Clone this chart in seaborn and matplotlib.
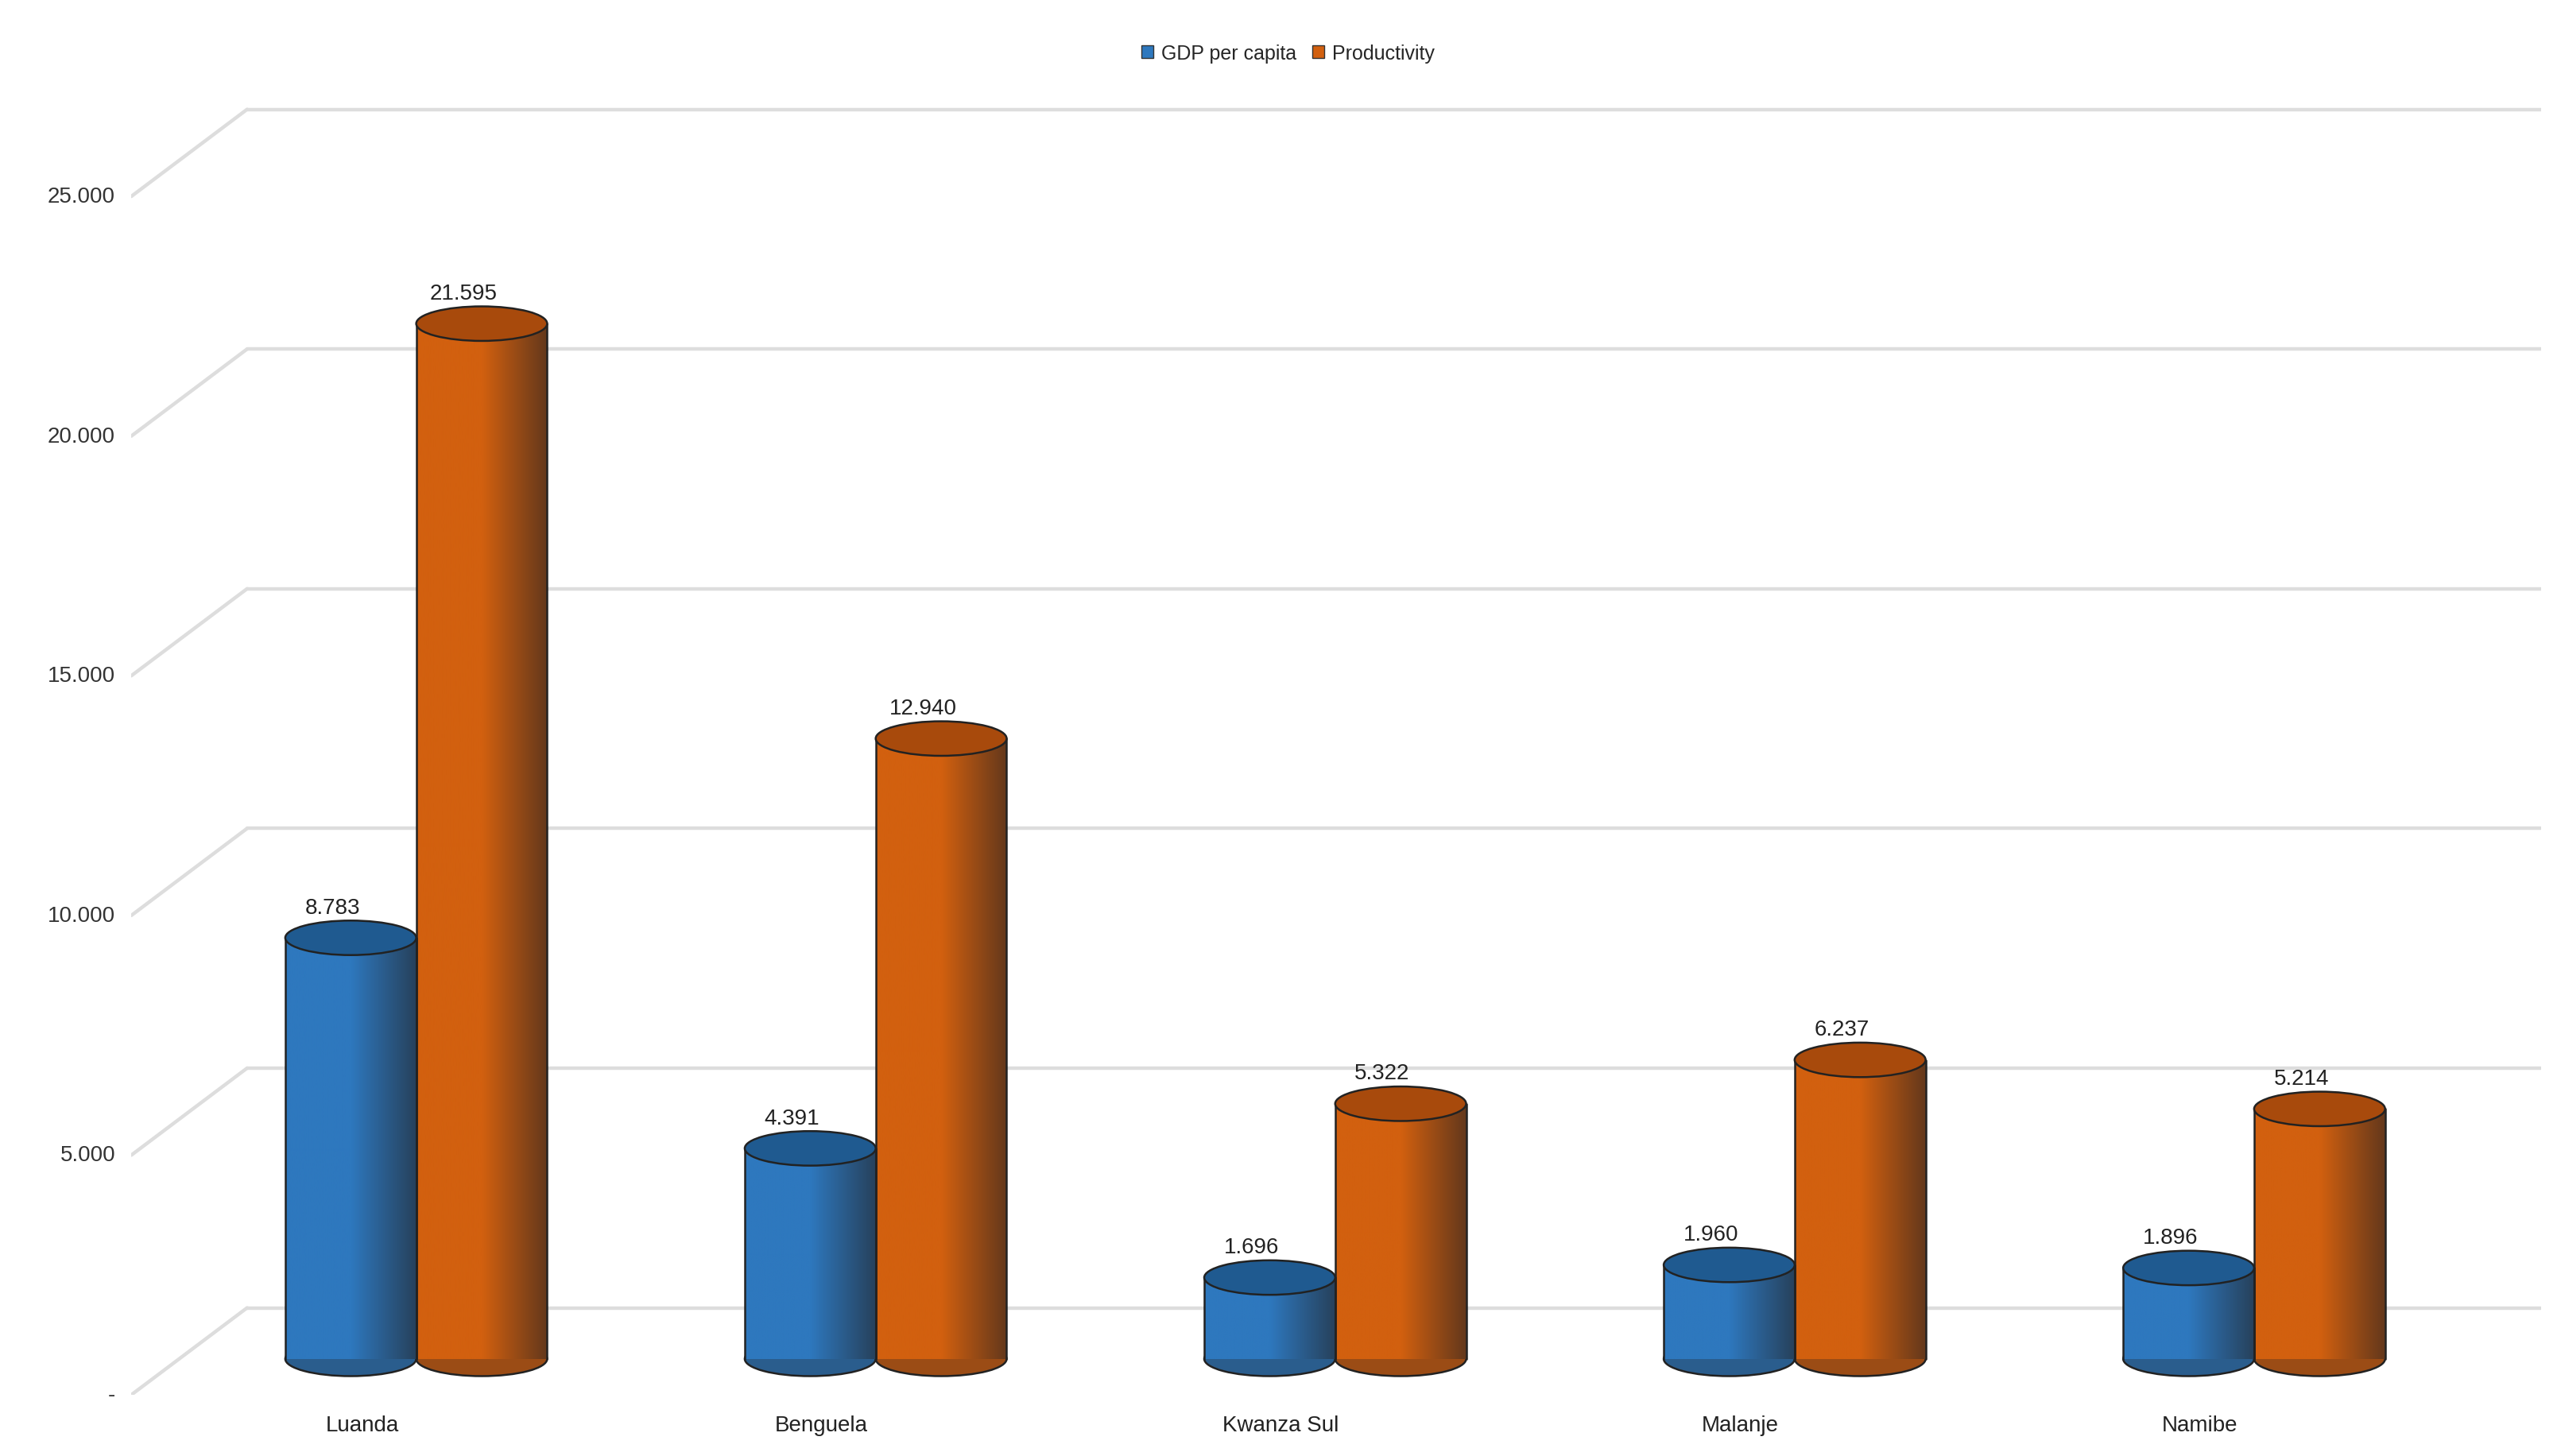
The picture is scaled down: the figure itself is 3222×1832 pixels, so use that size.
import numpy as np
import pandas as pd
import matplotlib
matplotlib.use("Agg")
import matplotlib.pyplot as plt
import seaborn as sns
from matplotlib.patches import Ellipse
from matplotlib.colors import LinearSegmentedColormap
from matplotlib.transforms import blended_transform_factory

regions = ["Luanda", "Benguela", "Kwanza Sul", "Malanje", "Namibe"]
gdp_per_capita = [8783, 4391, 1696, 1960, 1896]
productivity = [21595, 12940, 5322, 6237, 5214]
series = ["GDP per capita", "Productivity"]
y_ticks = [0, 5000, 10000, 15000, 20000, 25000]
y_tick_labels = ["-", "5.000", "10.000", "15.000", "20.000", "25.000"]

colors = {"GDP per capita": "#2E78BE", "Productivity": "#D2600F"}
cap_colors = {"GDP per capita": "#1F5A90", "Productivity": "#A84A0C"}

df = pd.DataFrame({
    "region": regions * 2,
    "series": [series[0]] * 5 + [series[1]] * 5,
    "value": gdp_per_capita + productivity,
})

sns.set_style("white")
plt.rcParams["font.family"] = ["Liberation Sans", "DejaVu Sans"]

fig = plt.figure(figsize=(16.11, 9.165), dpi=200)
ax = fig.add_axes([80 / 1560, 0.042, (1548 - 80) / 1560, 0.935 - 0.042])

sns.barplot(data=df, x="region", y="value", hue="series", palette=colors,
            width=0.57, ax=ax, legend=False, zorder=3)

base = 750      # bars sit partway into the floor depth
back = 1815     # vertical offset of the back wall
back_x = -0.368
ax.set_xlim(-0.62, 4.625)
ax.set_ylim(0, 26712 * (0.935 - 0.042) / (0.921 - 0.042))

# perspective grid
for v, lab in zip(y_ticks, y_tick_labels):
    ax.plot([back_x, 4.625], [v + back, v + back], color="#DDDDDD", lw=1.6, zorder=1)
    ax.plot([-0.62, back_x], [v, v + back], color="#DDDDDD", lw=1.6, zorder=1)
    ax.text(-0.655, v, lab, ha="right", va="center", fontsize=10, color="#333333",
            clip_on=False)

ell_h = 720
hue_of = [series[0]] * 5 + [series[1]] * 5
for patch, s, val in zip(ax.patches, hue_of, df["value"]):
    x0, w = patch.get_x(), patch.get_width()
    patch.set_y(base)
    patch.set_height(val)
    patch.set_edgecolor("none")
    c = colors[s]
    cmap = LinearSegmentedColormap.from_list("cyl", [c, c, sns.dark_palette(c, 4)[1]])
    grad = np.linspace(0, 1, 256).reshape(1, -1)
    im = ax.imshow(grad, cmap=cmap, extent=[x0, x0 + w, base, base + val],
                   aspect="auto", zorder=3.1)
    im.set_clip_path(patch)
    for xe in (x0, x0 + w):
        ax.plot([xe, xe], [base, base + val], color="#222222", lw=0.9, zorder=3.2)
    # bottom and top ellipses
    ax.add_patch(Ellipse((x0 + w / 2, base), w, ell_h, facecolor=sns.dark_palette(c, 4)[2],
                         edgecolor="#222222", lw=0.9, zorder=2.9))
    ax.add_patch(Ellipse((x0 + w / 2, base + val), w, ell_h, facecolor=cap_colors[s],
                         edgecolor="#222222", lw=0.9, zorder=3.3))
    ax.text(x0 + w / 2 - 0.04, base + val + 420, f"{val:,}".replace(",", "."),
            ha="center", va="bottom", fontsize=10, color="#222222", zorder=4)

ax.set_xticks([])
ax.set_yticks([])
ax.set_xlabel("")
ax.set_ylabel("")
for sp in ax.spines.values():
    sp.set_visible(False)

trans = blended_transform_factory(ax.transData, fig.transFigure)
for i, r in enumerate(regions):
    ax.text(i - 0.118, 1 - 868 / 887, r, ha="center", va="center", fontsize=10,
            color="#222222", transform=trans, clip_on=False)

handles = [plt.Rectangle((0, 0), 1, 1, facecolor=colors[s], edgecolor="#333333", lw=0.5)
           for s in series]
fig.legend(handles, series, loc="center", bbox_to_anchor=(0.503, 1 - 33 / 887), ncol=2,
           frameon=False, fontsize=9, handlelength=0.6, handleheight=0.6,
           handletextpad=0.4, columnspacing=0.8)

fig.savefig("out.png", dpi=200)
